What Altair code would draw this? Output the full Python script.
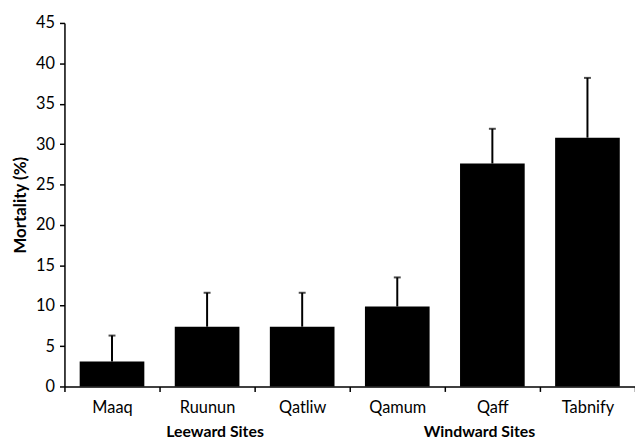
import altair as alt
import pandas as pd

sites = ["Maaq", "Ruunun", "Qatliw", "Qamum", "Qaff", "Tabnify"]
mortality = [3.1, 7.4, 7.4, 9.9, 27.6, 30.8]
upper = [6.3, 11.6, 11.6, 13.5, 31.9, 38.2]

group_names = ["Leeward Sites", "Windward Sites"]
group_anchor = ["Ruunun", "Qaff"]
group_dx = [56, 35]

df = pd.DataFrame({"site": sites, "mortality": mortality, "upper": upper})
gdf = pd.DataFrame({"label": group_names, "site": group_anchor, "dx": group_dx})

FONT = "Lato"
W, H = 576, 367

xenc = alt.X(
    "site:N",
    sort=sites,
    scale=alt.Scale(paddingInner=0, paddingOuter=0),
    axis=alt.Axis(
        title=None,
        labelAngle=0,
        tickBand="extent",
        tickSize=5,
        labelPadding=8,
        labelFontSize=16.5,
        labelFont=FONT,
        labelColor="black",
        domainColor="black",
        tickColor="black",
        domainWidth=1.5,
        tickWidth=1.5,
    ),
)
yscale = alt.Scale(domain=[0, 45])
yenc = alt.Y(
    "mortality:Q",
    scale=yscale,
    axis=alt.Axis(
        title="Mortality (%)",
        values=list(range(0, 50, 5)),
        grid=False,
        tickSize=5,
        labelPadding=5,
        labelFontSize=16.5,
        labelFont=FONT,
        labelColor="black",
        titleFont=FONT,
        titleFontSize=17,
        titleFontWeight="bold",
        titleColor="black",
        titlePadding=6,
        domainColor="black",
        tickColor="black",
        domainWidth=1.5,
        tickWidth=1.5,
    ),
)

bars = alt.Chart(df).mark_bar(color="black", width=alt.RelativeBandSize(0.68)).encode(x=xenc, y=yenc)

rules = alt.Chart(df).mark_rule(color="black", strokeWidth=2).encode(
    x=alt.X("site:N", sort=sites),
    y=alt.Y("mortality:Q", scale=yscale),
    y2="upper:Q",
)
caps = alt.Chart(df).mark_tick(color="black", size=7, thickness=2).encode(
    x=alt.X("site:N", sort=sites),
    y=alt.Y("upper:Q", scale=yscale),
)

groups = alt.Chart(gdf).mark_text(
    font=FONT, fontSize=16, fontWeight="bold", color="black", baseline="middle", align="center"
).encode(
    x=alt.X("site:N", sort=sites),
    xOffset=alt.XOffset("dx:Q", scale=None),
    y=alt.value(H + 46),
    text="label:N",
)

chart = (
    alt.layer(bars, rules, caps, groups)
    .properties(
        width=W,
        height=H,
        autosize=alt.AutoSizeParams(type="none"),
        padding={"left": 57, "top": 13, "right": 0, "bottom": 57},
    )
    .configure_view(stroke=None)
)

chart.save("out.html", embed_options={"renderer": "svg", "actions": False})
